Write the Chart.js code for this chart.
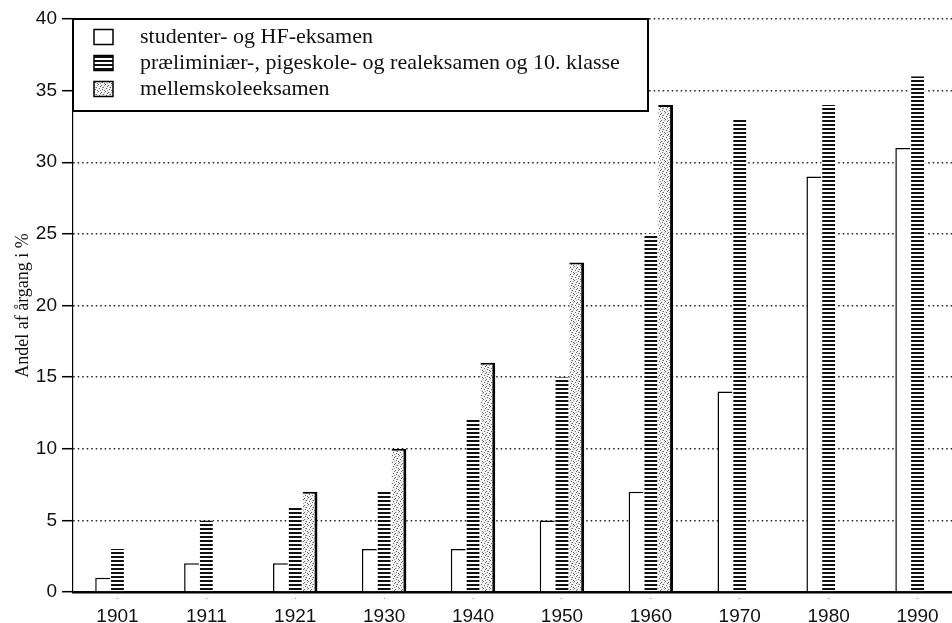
<!DOCTYPE html>
<html>
<head>
<meta charset="utf-8">
<script src="https://cdn.jsdelivr.net/npm/chart.js@4/dist/chart.umd.min.js"></script>
<style>
  html, body { margin: 0; padding: 0; background: #fff; overflow: hidden; }
  #wrap { width: 962px; height: 623px; }
</style>
</head>
<body>
<div id="wrap"><canvas id="c" width="962" height="623"></canvas></div>
<script>
// ---- data ----
const categories = ['1901', '1911', '1921', '1930', '1940', '1950', '1960', '1970', '1980', '1990'];
const studentValues = [1, 2, 2, 3, 3, 5, 7, 14, 29, 31];
const realValues = [3, 5, 6, 7, 12, 15, 25, 33, 34, 36];
const mellemValues = [null, null, 7, 10, 16, 23, 34, null, null, null];
const seriesLabels = [
  'studenter- og HF-eksamen',
  'præliminiær-, pigeskole- og realeksamen og 10. klasse',
  'mellemskoleeksamen'
];
const yTitle = 'Andel af årgang i %';

// ---- patterns ----
function makeStripe() {
  const t = document.createElement('canvas');
  t.width = 4; t.height = 4;
  const g = t.getContext('2d');
  g.fillStyle = '#fff'; g.fillRect(0, 0, 4, 4);
  g.fillStyle = '#111'; g.fillRect(0, 0, 4, 2);
  return g.createPattern(t, 'repeat');
}
function makeSpeck() {
  const t = document.createElement('canvas');
  t.width = 7; t.height = 7;
  const g = t.getContext('2d');
  g.fillStyle = '#f2f2f2'; g.fillRect(0, 0, 7, 7);
  g.fillStyle = '#6a6a6a';
  const dots = [[0,0],[3,1],[5,3],[1,4],[4,5],[6,6],[2,2]];
  dots.forEach(d => g.fillRect(d[0], d[1], 1, 1));
  g.fillStyle = '#aaa';
  [[6,1],[2,6],[4,3]].forEach(d => g.fillRect(d[0], d[1], 1, 1));
  return g.createPattern(t, 'repeat');
}
const stripe = makeStripe();
const speck = makeSpeck();

// ---- legend drawn inside plot ----
const boxLegend = {
  id: 'boxLegend',
  afterDraw(chart) {
    const { ctx, chartArea } = chart;
    const x0 = chartArea.left, y0 = chartArea.top;
    const w = 575, h = 92;
    ctx.save();
    ctx.fillStyle = '#fff';
    ctx.fillRect(x0, y0, w, h);
    ctx.strokeStyle = '#000';
    ctx.lineWidth = 2;
    ctx.strokeRect(x0, y0, w, h);
    const rows = [18, 44, 70];
    chart.data.datasets.forEach((ds, i) => {
      const cy = y0 + rows[i];
      const bx = x0 + 21, bw = 19, bh = 15;
      ctx.fillStyle = ds.backgroundColor;
      ctx.fillRect(bx, cy - bh / 2, bw, bh);
      ctx.lineWidth = 1.5;
      ctx.strokeStyle = '#000';
      ctx.strokeRect(bx, cy - bh / 2, bw, bh);
      ctx.fillStyle = '#111';
      ctx.font = '22px "Liberation Serif", serif';
      ctx.textBaseline = 'middle';
      ctx.textAlign = 'left';
      ctx.fillText(ds.label, x0 + 67, cy);
    });
    ctx.restore();
  }
};

new Chart(document.getElementById('c'), {
  type: 'bar',
  data: {
    labels: categories,
    datasets: [
      {
        label: seriesLabels[0],
        data: studentValues,
        backgroundColor: '#fff',
        borderColor: '#000',
        borderWidth: { left: 1.5, top: 1.5, right: 0, bottom: 0 },
        borderSkipped: false
      },
      {
        label: seriesLabels[1],
        data: realValues,
        backgroundColor: stripe,
        borderColor: '#fff',
        borderWidth: { left: 1, right: 1, top: 0, bottom: 0 },
        borderSkipped: false
      },
      {
        label: seriesLabels[2],
        data: mellemValues,
        backgroundColor: speck,
        borderColor: '#000',
        borderWidth: { left: 0, right: 3, top: 2, bottom: 0 },
        borderSkipped: false
      }
    ]
  },
  options: {
    responsive: false,
    animation: false,
    devicePixelRatio: 1,
    categoryPercentage: 0.5,
    barPercentage: 1.0,
    layout: { padding: { top: 19, left: 0, right: 0, bottom: 0 } },
    plugins: {
      legend: { display: false },
      tooltip: { enabled: false },
      title: { display: false }
    },
    scales: {
      x: {
        afterFit(scale) { scale.height = 31; },
        grid: {
          offset: false,
          drawOnChartArea: false,
          drawTicks: true,
          tickLength: 7,
          tickColor: '#444',
          tickWidth: 1.5,
          tickBorderDash: [0, 5, 1.5, 20]
        },
        border: { display: true, color: '#000', width: 2.5 },
        ticks: {
          color: '#111',
          font: { family: '"Liberation Sans", Arial, sans-serif', size: 19 },
          padding: 6,
          maxRotation: 0,
          autoSkip: false
        }
      },
      y: {
        min: 0,
        max: 40,
        afterFit(scale) { scale.width = 73; },
        grid: {
          color: '#222',
          lineWidth: 1.4,
          drawTicks: true,
          tickLength: 11,
          tickColor: '#000',
          tickWidth: 1.5
        },
        border: { display: true, color: '#000', width: 1.2, dash: [1.5, 3] },
        ticks: {
          stepSize: 5,
          color: '#111',
          font: { family: '"Liberation Sans", Arial, sans-serif', size: 19 },
          padding: 5
        },
        title: {
          display: true,
          text: yTitle,
          color: '#111',
          font: { family: '"Liberation Serif", serif', size: 18 },
          padding: { top: 12, bottom: 0 }
        }
      }
    }
  },
  plugins: [boxLegend]
});
</script>
</body>
</html>
